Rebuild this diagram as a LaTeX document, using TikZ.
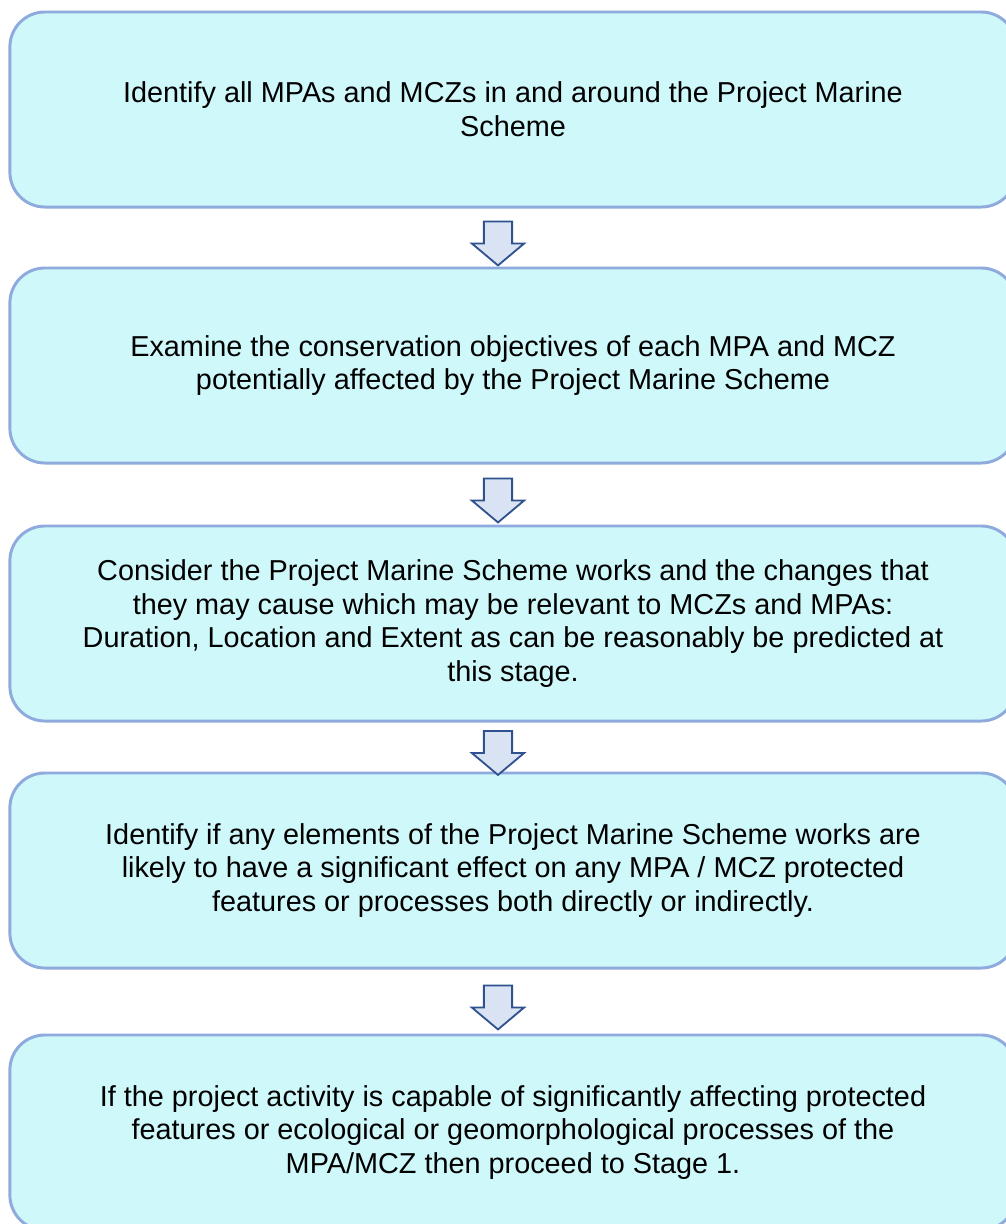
\documentclass[tikz,border=0pt]{standalone}
\usepackage{fontspec}
\setmainfont{Liberation Sans}
\usetikzlibrary{shapes.arrows, calc}

\definecolor{boxfill}{HTML}{CFF8FA}
\definecolor{boxline}{HTML}{8FAADC}
\definecolor{arrowfill}{HTML}{DAE3F3}
\definecolor{arrowline}{HTML}{2F528F}

\begin{document}
\begin{tikzpicture}[x=0.025cm, y=-0.025cm]

    \tikzstyle{stagebox} = [draw=boxline, fill=boxfill, line width=2.1pt, rounded corners=0.875cm, minimum width=25.15cm, minimum height=4.875cm, align=center, font=\fontsize{20.5}{24}\selectfont];
    \tikzstyle{downarrow} = [draw=arrowline, fill=arrowfill, line width=1.3pt, shape=single arrow, shape border rotate=270, inner xsep=0.33cm, inner ysep=0pt, minimum height=1.1cm, single arrow head extend=0.3cm, single arrow tip angle=100];

    \useasboundingbox (0,0) rectangle (1006,1224);
    \clip (0,0) rectangle (1006,1224);

    \node[stagebox] (s1) at (513,109.5) {Identify all MPAs and MCZs in and around the Project Marine\\Scheme};
    \node[stagebox] (s2) at (513,365.5) {Examine the conservation objectives of each MPA and MCZ\\potentially affected by the Project Marine Scheme};
    \node[stagebox] (s3) at (513,623.5) {Consider the Project Marine Scheme works and the changes that\\they may cause which may be relevant to MCZs and MPAs:\\Duration, Location and Extent as can be reasonably be predicted at\\this stage.};
    \node[stagebox] (s4) at (513,870.5) {Identify if any elements of the Project Marine Scheme works are\\likely to have a significant effect on any MPA / MCZ protected\\features or processes both directly or indirectly.};
    \node[stagebox] (s5) at (513,1132.5) {If the project activity is capable of significantly affecting protected\\features or ecological or geomorphological processes of the\\MPA/MCZ then proceed to Stage 1.};

    \node[downarrow, xshift=-0.375cm] (a1) at ($(s1.south)!0.5!(s2.north)$) {};
    \node[downarrow, xshift=-0.375cm] (a2) at ($(s2.south)!0.5!(s3.north)$) {};
    \node[downarrow, xshift=-0.375cm] (a3) at ($(s3.south)!0.5!(s4.north)$) {};
    \node[downarrow, xshift=-0.375cm] (a4) at ($(s4.south)!0.5!(s5.north)$) {};

\end{tikzpicture}
\end{document}
